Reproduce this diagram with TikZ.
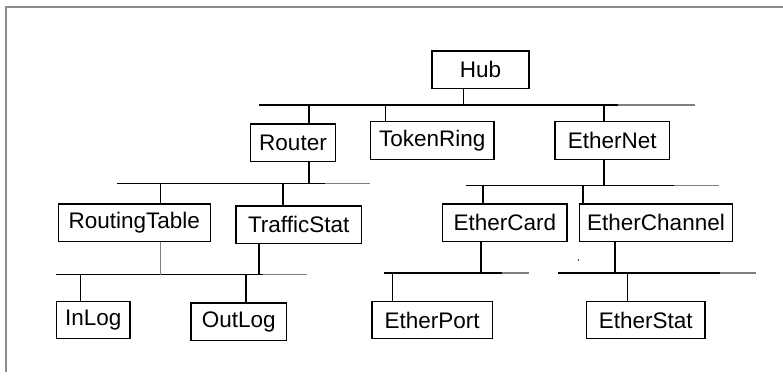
\documentclass[tikz,border=0pt]{standalone}
\usepackage{fontspec}
\setmainfont{Liberation Sans}
\usetikzlibrary{positioning}

\begin{document}
\begin{tikzpicture}[x=1pt, y=-1pt,
  box/.style={rectangle, draw, line width=1.3pt, minimum height=37.5pt, inner sep=0pt, font=\fontsize{22.5}{26}\selectfont},
  wire/.style={line width=1.5pt},
  tail/.style={line width=1.5pt, gray},
  frame/.style={line width=1.4pt, gray!90}
]
  \useasboundingbox (0,0) rectangle (783,377);
  \draw[frame] (783,7) -| (6,372);

  % class boxes
  \node[box, minimum width=97pt] (hub) at (480.5,69.7) {Hub};
  \node[box, minimum width=84.6pt] (router) at (293,142.7) {Router};
  \node[box, minimum width=123.7pt] (tokenring) at (432.2,140.5) {TokenRing};
  \node[box, minimum width=114.3pt] (ethernet) at (612.2,140.5) {EtherNet};
  \node[box, minimum width=152pt] (routingtable) at (134.3,222.8) {RoutingTable};
  \node[box, minimum width=125.3pt] (trafficstat) at (298.7,224.7) {TrafficStat};
  \node[box, minimum width=124.3pt] (ethercard) at (504.8,222.8) {EtherCard};
  \node[box, minimum width=153.4pt] (etherchannel) at (656,222.8) {EtherChannel};
  \node[box, minimum width=73.3pt] (inlog) at (93.3,320) {InLog};
  \node[box, minimum width=95.7pt] (outlog) at (238.8,321.8) {OutLog};
  \node[box, minimum width=120.3pt] (etherport) at (432.2,320) {EtherPort};
  \node[box, minimum width=118.3pt] (etherstat) at (645.8,320) {EtherStat};

  % buses
  \foreach \name/\x/\y/\len/\glen in {bhub/259/105/358.7/77.3, brouter/117.3/183.7/207.7/44.7,
      bether/466/185.7/208/45, btraffic/56/274.7/206.7/44.6,
      bcard/384/273/117.7/27, bchannel/558.3/273/161.7/36} {
    \coordinate (\name) at (\x,\y);
    \draw[wire] (\name) -- ++(\len,0) coordinate (\name end);
    \draw[tail] (\name end) -- ++(\glen,0);
  }

  % stems down to a bus
  \foreach \n/\dx/\b in {hub/-16.8/bhub, router/16/brouter, ethernet/-8.2/bether,
      trafficstat/-39.7/btraffic, ethercard/-23.8/bcard, etherchannel/-41/bchannel}
    \draw[wire] ([xshift=\dx pt]\n.south) -- ([xshift=\dx pt]\n.south |- \b);
  \draw[tail] ([xshift=26pt]routingtable.south) -- ([xshift=26pt]routingtable.south |- btraffic);

  % stems up from a bus
  \foreach \n/\dx/\b in {router/16/bhub, tokenring/-46.5/bhub, ethernet/-8.2/bhub,
      routingtable/26/brouter, trafficstat/-15.7/brouter,
      ethercard/-21.8/bether, etherchannel/-73/bether,
      inlog/-12.6/btraffic, outlog/7.2/btraffic,
      etherport/-39.5/bcard, etherstat/-18.1/bchannel}
    \draw[wire] ([xshift=\dx pt]\n.north) -- ([xshift=\dx pt]\n.north |- \b);

  \fill (578.3,260) circle (0.8);
\end{tikzpicture}
\end{document}
